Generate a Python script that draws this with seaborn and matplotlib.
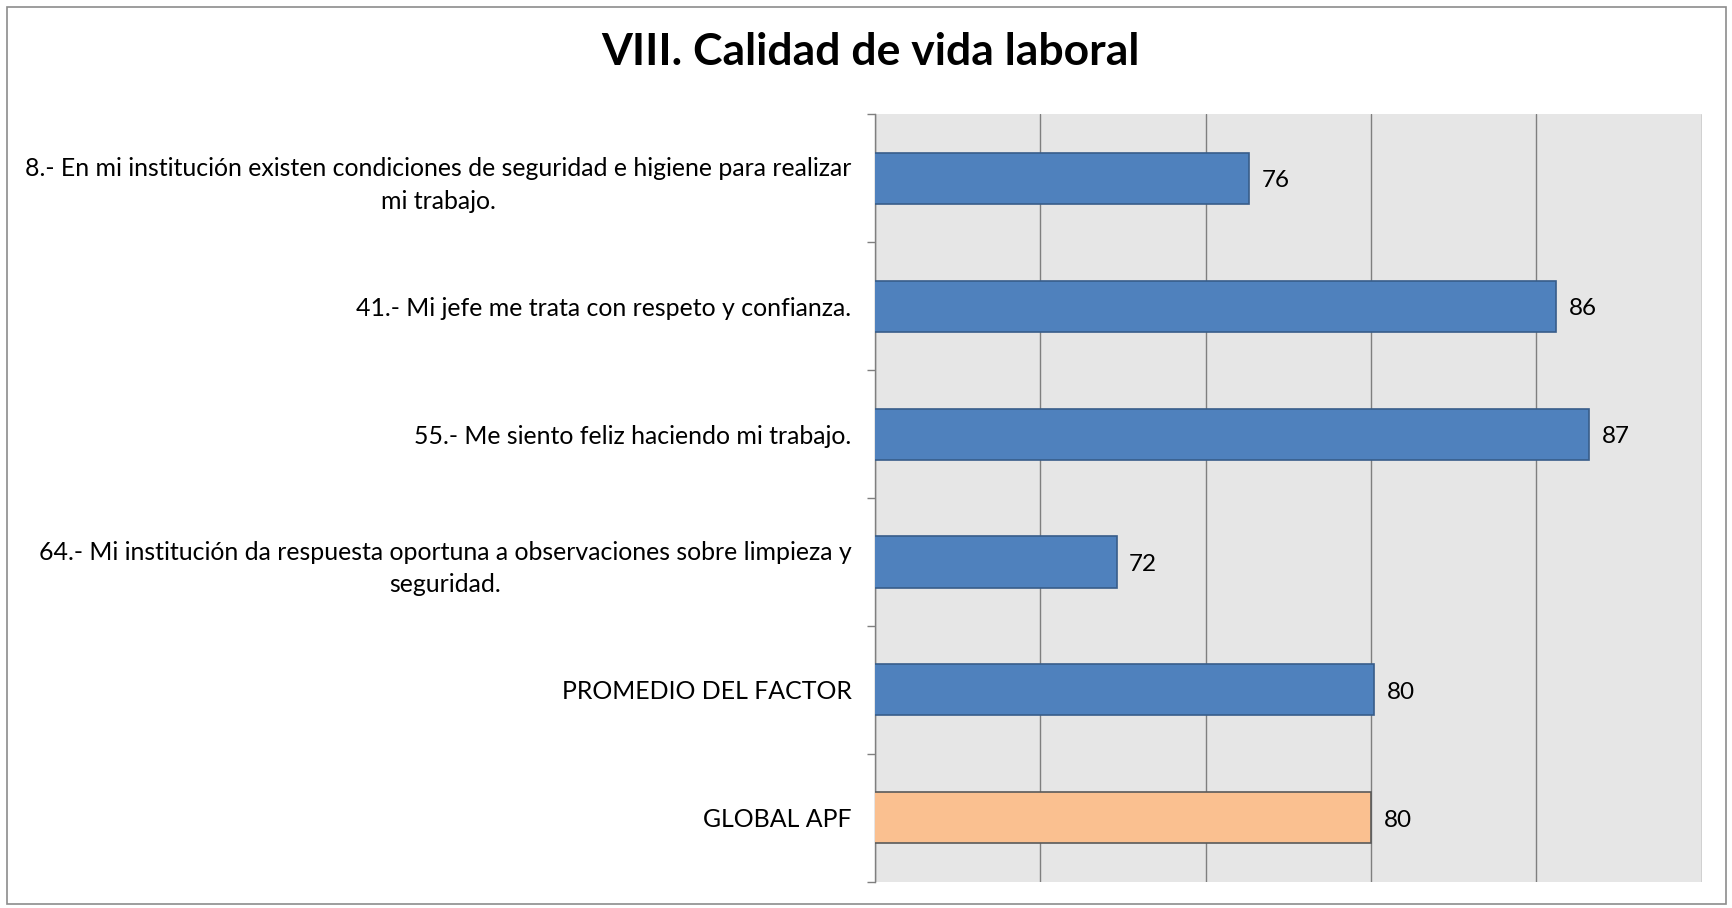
import matplotlib.pyplot as plt
import pandas as pd
import seaborn as sns
from matplotlib.patches import Rectangle
from matplotlib.ticker import MultipleLocator


TITLE = "VIII. Calidad de vida laboral"
ITEMS = [
    "8.- En mi institución existen condiciones de seguridad e higiene para realizar\nmi trabajo.",
    "41.- Mi jefe me trata con respeto y confianza.",
    "55.- Me siento feliz haciendo mi trabajo.",
    "64.- Mi institución da respuesta oportuna a observaciones sobre limpieza y\nseguridad.",
    "PROMEDIO DEL FACTOR",
    "GLOBAL APF",
]
SCORES = [76.3, 85.6, 86.6, 72.3, 80.1, 80.0]
BAR_COLORS = ["#4F81BD", "#4F81BD", "#4F81BD", "#4F81BD", "#4F81BD", "#FAC090"]
EDGE_COLORS = ["#385D8A", "#385D8A", "#385D8A", "#385D8A", "#385D8A", "#5A5A5A"]

sns.set_style("white")
plt.rcParams["font.family"] = ["Lato", "DejaVu Sans"]

frame = pd.DataFrame({"item": ITEMS, "score": SCORES})

fig = plt.figure(figsize=(17.33, 9.08), dpi=100)
ax = fig.add_axes([0.505, 0.029, 0.477, 0.845])

sns.barplot(
    data=frame, x="score", y="item", hue="item", palette=BAR_COLORS,
    orient="h", width=0.4, saturation=1, legend=False, ax=ax, zorder=3,
)
for bar, edge in zip(ax.patches, EDGE_COLORS):
    bar.set_edgecolor(edge)
    bar.set_linewidth(1.2)

ax.set_xlim(65, 90)
ax.xaxis.set_major_locator(MultipleLocator(5))
ax.set_facecolor("#E6E6E6")
ax.grid(axis="x", color="#7F7F7F", linewidth=1.0, zorder=0)
ax.set_axisbelow(True)
ax.tick_params(axis="x", length=0, labelbottom=False)
ax.set_xlabel("")
ax.set_ylabel("")

ax.set_yticks(range(len(ITEMS)))
ax.set_yticks([i + 0.5 for i in range(-1, len(ITEMS))], minor=True)
ax.set_ylim(len(ITEMS) - 0.5, -0.5)
ax.tick_params(axis="y", which="major", length=0, pad=17, labelsize=17.9)
ax.tick_params(axis="y", which="minor", length=6, width=1, color="#7F7F7F", left=True)
for label in ax.get_yticklabels():
    label.set_multialignment("center")
    label.set_linespacing(1.5)
    label.set_color("#000000")

for side in ["top", "right", "bottom"]:
    ax.spines[side].set_visible(False)
ax.spines["left"].set_color("#7F7F7F")
ax.spines["left"].set_linewidth(1.0)

for bar, score in zip(ax.patches, SCORES):
    ax.text(
        bar.get_width() + 0.38, bar.get_y() + bar.get_height() / 2 + 0.02,
        f"{score:.0f}", va="center", ha="left", fontsize=17.5, color="#000000",
    )

fig.text(0.502, 0.943, TITLE, ha="center", va="center", fontsize=32,
         fontweight="bold", color="#000000")
fig.patches.append(Rectangle((0.004, 0.004), 0.992, 0.988, transform=fig.transFigure,
                             fill=False, edgecolor="#8C8C8C", linewidth=1.2))

fig.savefig("out.png", dpi=100)
plt.close(fig)
